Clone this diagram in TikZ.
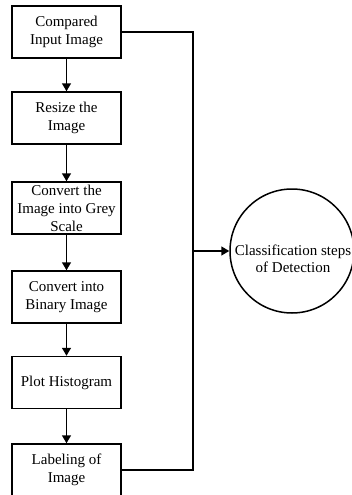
\documentclass[tikz,border=0pt]{standalone}
\usepackage{fontspec}
\setmainfont{Liberation Serif}
\usetikzlibrary{arrows.meta}
\begin{document}
\begin{tikzpicture}[x=1pt,y=-1pt,
  stepbox/.style={draw,line width=1.5pt,minimum width=109pt,minimum height=52pt,inner sep=2pt,align=center,font=\fontsize{15}{18}\selectfont},
  flow/.style={line width=1.5pt,-{Triangle[length=8pt,width=9pt]}},
  link/.style={line width=1.5pt}]
\useasboundingbox (0,0) rectangle (351,495);
\fill[white] (0,0) rectangle (351,495);
\node[stepbox] (b1) at (66.5,32) {Compared\\Input Image};
\node[stepbox] (b2) at (66.5,118) {Resize the\\Image};
\node[stepbox] (b3) at (66.5,208) {Convert the\\Image into Grey\\Scale};
\node[stepbox] (b4) at (66.5,297) {Convert into\\Binary Image};
\node[stepbox] (b5) at (66.5,382.5) {Plot Histogram};
\node[stepbox] (b6) at (66.5,470) {Labeling of\\Image};
\node[draw,circle,line width=1.5pt,minimum size=124pt,inner sep=0pt] (c) at (292,251) {};
\node[align=center,inner sep=0pt,font=\fontsize{15}{16.5}\selectfont] (ct) at (293,259) {Classification steps\\of Detection};
\coordinate (j) at (193,251);
\draw[flow] (b1) -- (b2);
\draw[flow] (b2) -- (b3);
\draw[flow] (b3) -- (b4);
\draw[flow] (b4) -- (b5);
\draw[flow] (b5) -- (b6);
\draw[link] (b1.east) -| (j) |- (b6.east);
\draw[flow] (j) -- (c.west);
\end{tikzpicture}
\end{document}
